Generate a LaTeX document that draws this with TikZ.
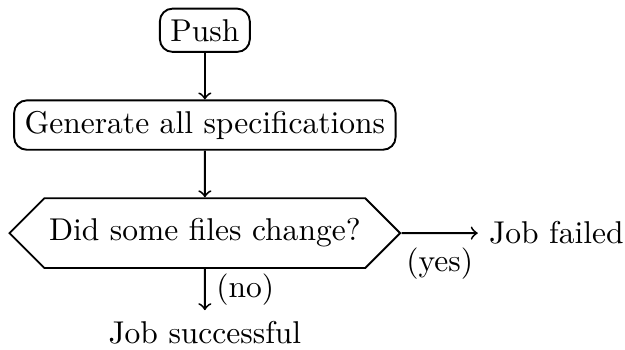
\documentclass[tikz,border=0pt]{standalone}
\usetikzlibrary{positioning, shapes.symbols}
\tikzset{
  every picture/.style={semithick},
  stepbox/.style={draw, rounded corners=4pt, align=center},
  choice/.style={draw, signal, signal to=west and east, signal pointer angle=90, inner xsep=1.5pt, inner ysep=6.5pt},
  outcome/.style={align=center},
  flow/.style={->},
}
\begin{document}
\begin{tikzpicture}[node distance=5.2mm]
  \useasboundingbox (-65pt,9.6pt) rectangle (133.3pt,-101.2pt);
  \node[stepbox] (push) {Push};
  \node[stepbox, below=of push] (gen) {Generate all specifications};
  \node[choice, below=of gen] (change) {Did some files change?};
  \node[outcome, right=8.5mm of change] (fail) {Job failed};
  \node[outcome, below=4.6mm of change] (ok) {Job successful};
  \draw[flow] (push) -- (gen);
  \draw[flow] (gen) -- (change);
  \draw[flow] (change) -- node[below=1pt] {(yes)} (fail);
  \draw[flow] (change) -- node[right] {(no)} (ok);
\end{tikzpicture}
\end{document}
